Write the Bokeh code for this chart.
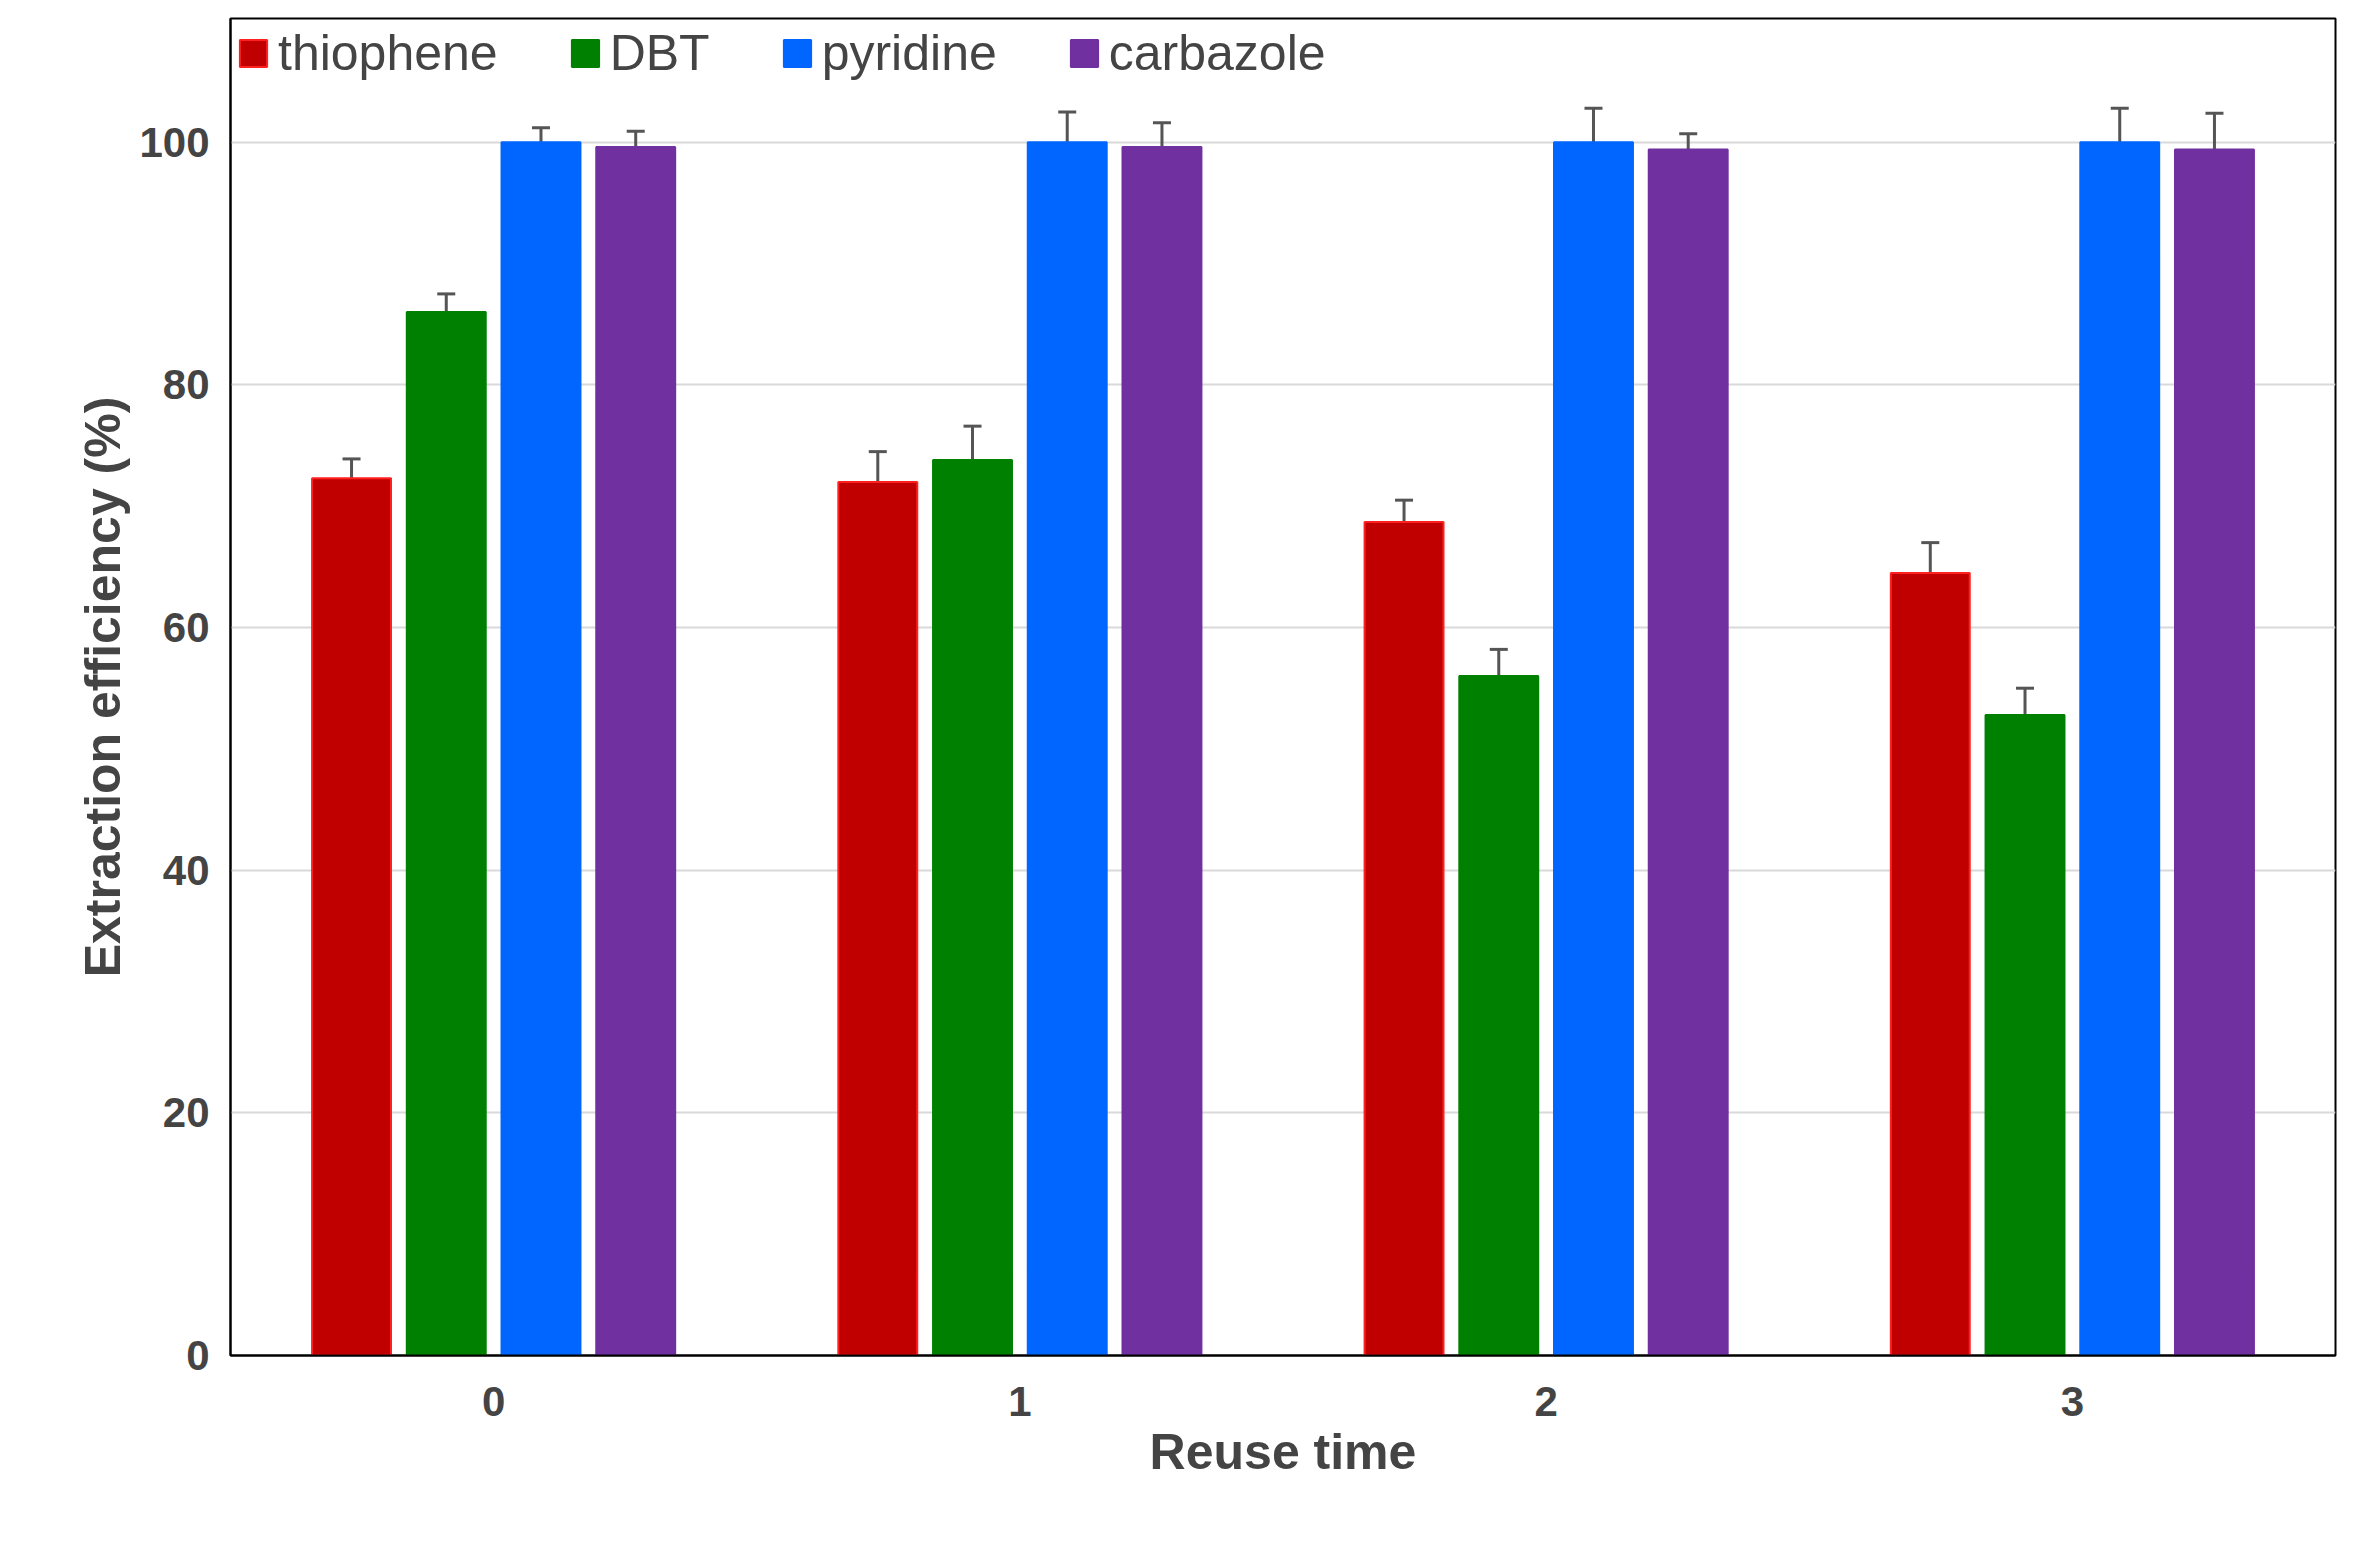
from bokeh.plotting import figure
from bokeh.models import ColumnDataSource, Whisker, Legend, LegendItem, FixedTicker
from bokeh.embed import file_html
from bokeh.resources import INLINE

reuse = [0, 1, 2, 3]
series = ["thiophene", "DBT", "pyridine", "carbazole"]
thiophene = [72.3, 72.0, 68.7, 64.5]
thiophene_err = [1.6, 2.5, 1.8, 2.5]
dbt = [86.0, 73.8, 56.0, 52.8]
dbt_err = [1.5, 2.8, 2.2, 2.2]
pyridine = [100.0, 100.0, 100.0, 100.0]
pyridine_err = [1.2, 2.5, 2.8, 2.8]
carbazole = [99.6, 99.6, 99.4, 99.4]
carbazole_err = [1.3, 2.0, 1.3, 3.0]

colors = ["#C00000", "#008000", "#0066FF", "#7030A0"]
lines = ["#FF2020", "#008000", "#0066FF", "#7030A0"]
offsets = [-0.27, -0.09, 0.09, 0.27]
vals = [thiophene, dbt, pyridine, carbazole]
errs = [thiophene_err, dbt_err, pyridine_err, carbazole_err]

p = figure(width=2345, height=1525, x_range=(-0.5, 3.5), y_range=(0, 110.2),
           output_backend="svg", toolbar_location=None,
           min_border_left=230, min_border_right=10, min_border_top=18, min_border_bottom=170)
p.outline_line_color = "black"
p.outline_line_width = 2
p.xgrid.grid_line_color = None
p.ygrid.grid_line_color = "#D9D9D9"
p.ygrid.grid_line_width = 2
p.xaxis.ticker = FixedTicker(ticks=reuse)
p.yaxis.ticker = FixedTicker(ticks=[0, 20, 40, 60, 80, 100])
for ax in (p.xaxis, p.yaxis):
    ax.major_tick_line_color = None
    ax.minor_tick_line_color = None
    ax.axis_line_color = "black"
    ax.axis_line_width = 2
    ax.major_label_text_font = "Liberation Sans"
    ax.major_label_text_font_style = "bold"
    ax.major_label_text_font_size = "42px"
    ax.axis_label_text_font = "Liberation Sans"
    ax.axis_label_text_font_style = "bold"
    ax.axis_label_text_font_size = "50px"
p.xaxis.axis_label = "Reuse time"
p.yaxis.axis_label = "Extraction efficiency (%)"
p.xaxis.major_label_standoff = 25
p.yaxis.major_label_standoff = 15

items = []
for name, v, e, c, lc, off in zip(series, vals, errs, colors, lines, offsets):
    xs = [r + off for r in reuse]
    src = ColumnDataSource(dict(x=xs, top=v, up=[a + b for a, b in zip(v, e)],
                                lo=[a - b for a, b in zip(v, e)]))
    r = p.vbar(x="x", top="top", width=0.15, source=src, fill_color=c,
               line_color=lc, line_width=2)
    w = Whisker(source=src, base="x", upper="up", lower="lo", line_color="#555555",
                line_width=3)
    w.upper_head.size = 18; w.lower_head.size = 18
    w.upper_head.line_color = "#555555"; w.lower_head.line_color = "#555555"
    w.upper_head.line_width = 3; w.lower_head.line_width = 3
    p.add_layout(w)
    items.append(LegendItem(label=name, renderers=[r]))

leg = Legend(items=items, orientation="horizontal", location="top_left",
             label_text_font="Liberation Sans", label_text_font_size="50px",
             glyph_width=34, glyph_height=34, spacing=70, label_standoff=8,
             background_fill_alpha=0, border_line_color=None, margin=6, padding=8)
p.add_layout(leg)

open("out.html", "w").write(file_html(p, INLINE))
